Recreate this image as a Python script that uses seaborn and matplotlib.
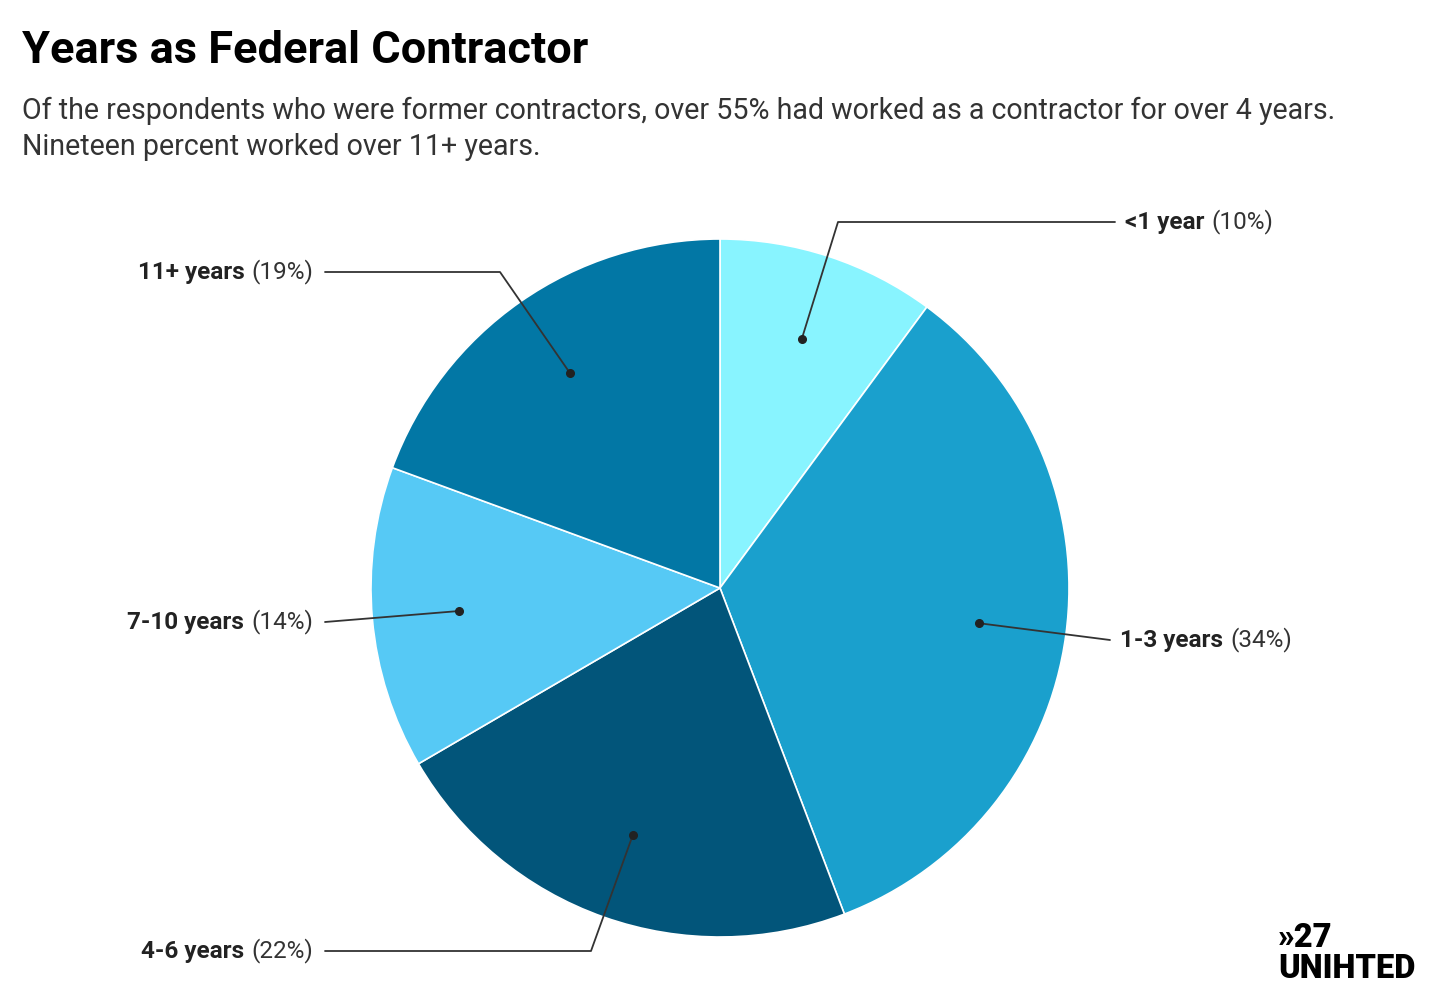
import numpy as np
import seaborn as sns
import matplotlib.pyplot as plt
from matplotlib.offsetbox import TextArea, HPacker, AnnotationBbox

sns.set_theme(style="white")
plt.rcParams['font.family'] = ['Roboto', 'DejaVu Sans']

# data
labels = ['<1 year', '1-3 years', '4-6 years', '7-10 years', '11+ years']
shares = [10.1, 34.1, 22.4, 14.0, 19.4]
pct_text = ['10%', '34%', '22%', '14%', '19%']
colors = ['#88F4FF', '#1AA0CD', '#02557A', '#56C9F5', '#0277A5']

# pixel layout of the reference (centre 720,588  radius 349)
W, H = 1440, 1000
cx, cy, R = 720, 588, 349

def to_data(px, py):
    return (px - cx) / R, (cy - py) / R

# elbow point of each leader and where the label sits (pixels)
elbows = [(838, 222), (1110, 640), (591, 951), (325, 622), (500, 272)]
ends = [(1115, 222), (1110, 640), (325, 951), (325, 622), (325, 272)]
side = ['right', 'right', 'left', 'left', 'left']

fig = plt.figure(figsize=(14.4, 10), dpi=100)
ax = fig.add_axes([0, 0, 1, 1])
wedges, _ = ax.pie(shares, colors=colors, startangle=90, counterclock=False,
                   wedgeprops=dict(edgecolor='white', linewidth=1.2))
ax.set_xlim(-cx / R, (W - cx) / R)
ax.set_ylim((cy - H) / R, cy / R)
ax.set_aspect('auto')
ax.axis('off')

for i, w in enumerate(wedges):
    mid = np.deg2rad((w.theta1 + w.theta2) / 2)
    dx, dy = 0.75 * np.cos(mid), 0.75 * np.sin(mid)
    ex, ey = to_data(*elbows[i])
    tx, ty = to_data(*ends[i])
    ax.plot([dx, ex, tx], [dy, ey, ty], color='#333333', lw=1.3, zorder=3)
    ax.plot(dx, dy, 'o', color='#222222', ms=5.5, zorder=4)

    bold = TextArea(labels[i], textprops=dict(fontsize=17.5, fontweight='bold', color='#222222'))
    norm = TextArea('(' + pct_text[i] + ')', textprops=dict(fontsize=17.5, color='#333333'))
    box = HPacker(children=[bold, norm], align='baseline', pad=0, sep=5)
    if side[i] == 'right':
        ab = AnnotationBbox(box, (tx, ty), xybox=(7.5, 0), boxcoords='offset points',
                            box_alignment=(0, 0.5), frameon=False)
    else:
        ab = AnnotationBbox(box, (tx, ty), xybox=(-8.5, 0), boxcoords='offset points',
                            box_alignment=(1, 0.5), frameon=False)
    ax.add_artist(ab)

fig.text(22 / W, 1 - 63 / H, 'Years as Federal Contractor', fontsize=32.5,
         fontweight='bold', color='black', va='baseline')
fig.text(22 / W, 1 - 119 / H,
         'Of the respondents who were former contractors, over 55% had worked as a contractor for over 4 years.',
         fontsize=20.6, color='#333333', va='baseline')
fig.text(22 / W, 1 - 155 / H, 'Nineteen percent worked over 11+ years.',
         fontsize=20.6, color='#333333', va='baseline')

# logo
fig.text(1278 / W, 1 - 922 / H, '\u00bb27\nUNIHTED', fontsize=23.5, fontweight='black',
         color='black', va='top', linespacing=0.98)

fig.savefig('out.png', dpi=100, facecolor='white')
